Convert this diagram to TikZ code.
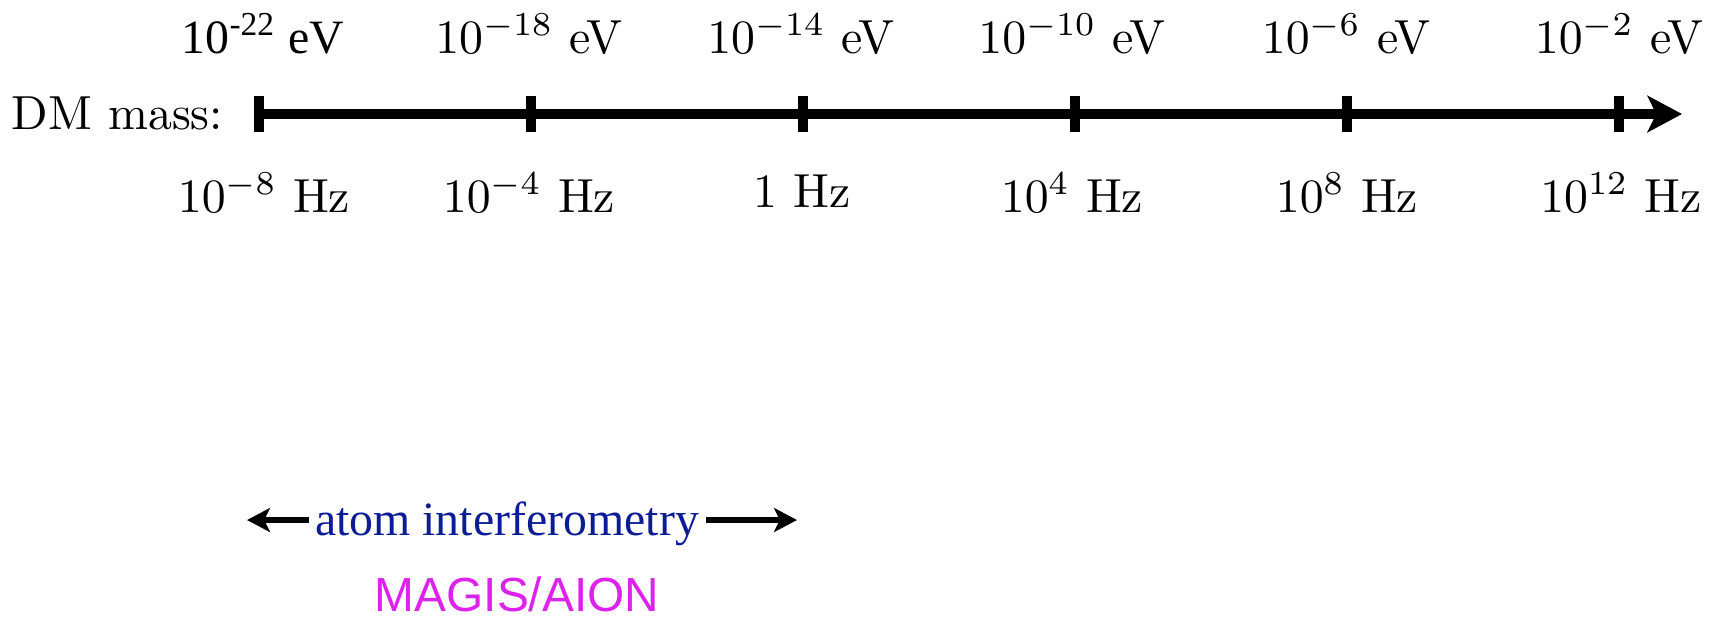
\documentclass[tikz,border=0pt]{standalone}
\usepackage{fontspec}
\newfontfamily\libserif{Liberation Serif}
\newfontfamily\libsans{Liberation Sans}
\usetikzlibrary{arrows.meta}
\definecolor{atomblue}{RGB}{12,28,150}
\definecolor{magisc}{RGB}{221,34,238}
\tikzset{
  axisline/.style={line width=2pt,-{Stealth[length=7.2pt,width=7.6pt,inset=1.8pt]}},
  tickmark/.style={line width=2pt},
  evlabel/.style={anchor=base,inner sep=0pt},
  hzlabel/.style={anchor=base,inner sep=0pt},
  rangearrow/.style={line width=1.2pt,-{Stealth[length=4.8pt,width=5pt,inset=1.2pt]}}
}
\begin{document}
\begin{tikzpicture}[x=0.209pt,y=-0.209pt]
\useasboundingbox (0,0) rectangle (1716,620);
% axis
\coordinate (ax0) at (259,114);
\coordinate (axend) at (1682,114);
\node[anchor=base east,inner sep=0pt] (dm) at (224,129) {DM mass:};
\draw[axisline] (ax0) -- (axend);
\foreach \i/\x in {1/259,2/531,3/803,4/1075,5/1347,6/1619}{
  \coordinate (t\i top) at (\x,96);
  \coordinate (t\i bot) at (\x,132);
  \draw[tickmark] (t\i top) -- (t\i bot);
}
% energy labels
\node[evlabel] (ev1) at (263,53) {\libserif 10\textsuperscript{-22} eV};
\node[evlabel] (ev2) at (529,53) {$10^{-18}$ eV};
\node[evlabel] (ev3) at (801,53) {$10^{-14}$ eV};
\node[evlabel] (ev4) at (1072,53) {$10^{-10}$ eV};
\node[evlabel] (ev5) at (1346,53) {$10^{-6}$ eV};
\node[evlabel] (ev6) at (1619,53) {$10^{-2}$ eV};
% frequency labels
\node[hzlabel] (hz1) at (264,212) {$10^{-8}$ Hz};
\node[hzlabel] (hz2) at (529,212) {$10^{-4}$ Hz};
\node[hzlabel] (hz3) at (802,207) {1 Hz};
\node[hzlabel] (hz4) at (1072,212) {$10^{4}$ Hz};
\node[hzlabel] (hz5) at (1347,212) {$10^{8}$ Hz};
\node[hzlabel] (hz6) at (1621,212) {$10^{12}$ Hz};
% atom interferometry
\node[anchor=base,inner sep=0pt,text=atomblue] (atom) at (507,535) {\libserif atom interferometry};
\coordinate (la) at (247,520);
\coordinate (ra) at (797,520);
\coordinate (ls) at (309,520);
\coordinate (rs) at (706,520);
\draw[rangearrow] (ls) -- (la);
\draw[rangearrow] (rs) -- (ra);
\node[anchor=base,inner sep=0pt,text=magisc] (magis) at (517,611) {\libsans MAGIS/AION};
\end{tikzpicture}
\end{document}
